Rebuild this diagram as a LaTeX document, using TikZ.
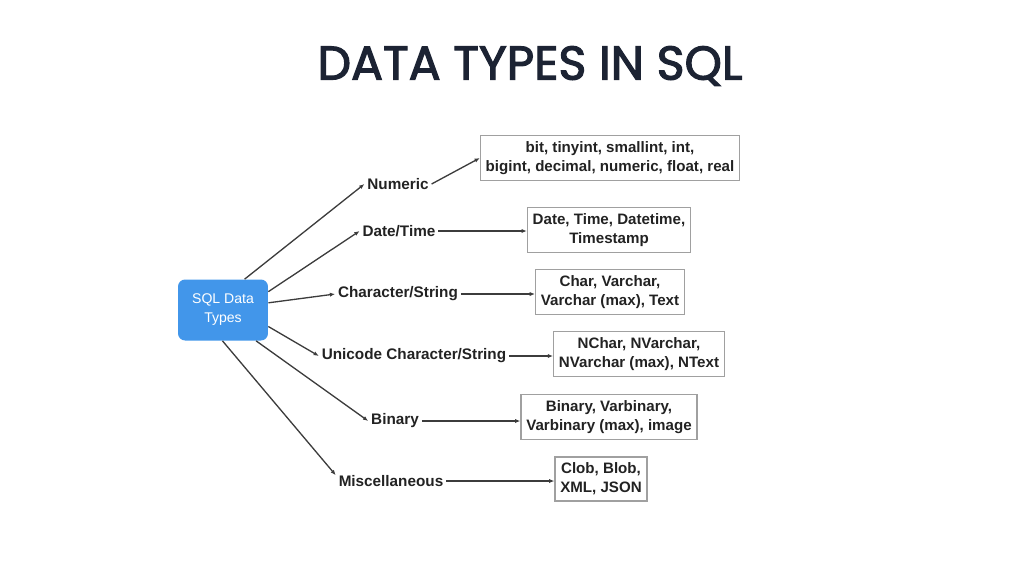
\documentclass[tikz,border=0pt]{standalone}
\usepackage{fontspec}
\setmainfont{Liberation Sans}
\newfontfamily\titlefont{Poppins}[FakeBold=2.4]
\usepackage{tikz}
\usetikzlibrary{positioning, arrows.meta}
\definecolor{sqlBlue}{RGB}{66, 150, 234}
\definecolor{sqlNavy}{RGB}{28, 35, 51}
\definecolor{sqlInk}{RGB}{34, 34, 34}
\definecolor{sqlLine}{RGB}{60, 60, 60}
\definecolor{sqlFrame}{RGB}{160, 160, 160}

\begin{document}
\begin{tikzpicture}[x=0.02cm, y=-0.02cm,
  hub/.style={fill=sqlBlue, rounded corners=4pt, minimum width=1.8cm, minimum height=1.22cm,
    align=center, text=white, font=\fontsize{8}{10.8}\selectfont, inner sep=0pt},
  cat/.style={text=sqlInk, font=\fontsize{8.7}{10.8}\selectfont\bfseries, inner sep=1.5pt},
  kinds/.style={draw=sqlFrame, line width=0.7pt, text=sqlInk, align=center, minimum height=0.84cm,
    font=\fontsize{8.6}{10.8}\selectfont\bfseries, inner xsep=3pt},
  link/.style={-{Latex[length=3pt, width=2.4pt]}, draw=sqlLine, line width=0.75pt}]
  \useasboundingbox (0,0) rectangle (1021,569);

  % Title
  \node[text=sqlNavy, font=\titlefont\fontsize{27}{30}\selectfont] (title) at (530,66) {DATA TYPES IN SQL};

  % Root
  \node[hub] (sql) at (223,310) {SQL Data\\Types};

  % Categories
  \node[cat] (num) at (398,184) {Numeric};
  \node[cat] (date) at (399,231) {Date/Time};
  \node[cat] (char) at (398,294) {Character/String};
  \node[cat] (uni) at (414,356) {Unicode Character/String};
  \node[cat] (bin) at (395,421) {Binary};
  \node[cat] (misc) at (391,481) {Miscellaneous};

  % Type lists
  \node[kinds] (numbox) at (610,158) {bit, tinyint, smallint, int,\\bigint, decimal, numeric, float, real};
  \node[kinds] (datebox) at (609,230) {Date, Time, Datetime,\\Timestamp};
  \node[kinds] (charbox) at (610,292) {Char, Varchar,\\Varchar (max), Text};
  \node[kinds] (unibox) at (639,354) {NChar, NVarchar,\\NVarchar (max), NText};
  \node[kinds] (binbox) at (609,417) {Binary, Varbinary,\\Varbinary (max), image};
  \node[kinds] (miscbox) at (601,479) {Clob, Blob,\\XML, JSON};

  % Root to categories
  \draw[link] (sql.55) -- (num.west);
  \draw[link] (sql.22) -- (date.west);
  \draw[link] (sql.9) -- (char.west);
  \draw[link] (sql.-20) -- (uni.west);
  \draw[link] (sql.-43) -- (bin.west);
  \draw[link] (sql.-91) -- (misc.174);

  % Categories to lists
  \draw[link] (num.east) -- (numbox.west);
  \draw[link] (date.east) -- (date.east -| datebox.west);
  \draw[link] (char.east) -- (char.east -| charbox.west);
  \draw[link] (uni.east) -- (uni.east -| unibox.west);
  \draw[link] (bin.east) -- (bin.east -| binbox.west);
  \draw[link] (misc.east) -- (misc.east -| miscbox.west);
\end{tikzpicture}
\end{document}
